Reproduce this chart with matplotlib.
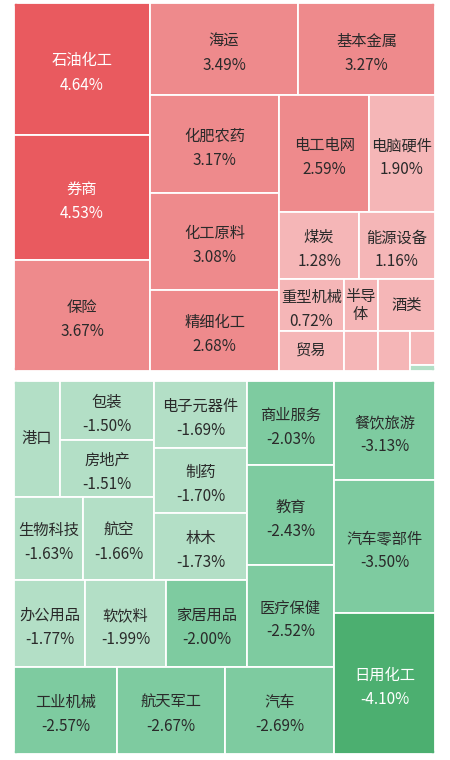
import matplotlib
matplotlib.use("Agg")
import matplotlib.pyplot as plt
from matplotlib.patches import Rectangle, FancyBboxPatch

plt.rcParams['font.family'] = ['Noto Sans CJK SC', 'DejaVu Sans']

# ---- top panel (gainers) ----
up_names = ['石油化工', '券商', '保险', '海运', '基本金属', '化肥农药', '化工原料', '精细化工',
            '电工电网', '电脑硬件', '煤炭', '能源设备', '重型机械', '贸易', '半导\n体', '酒类',
            '', '', '', '']
up_pct = [4.64, 4.53, 3.67, 3.49, 3.27, 3.17, 3.08, 2.68, 2.59, 1.90, 1.28, 1.16, 0.72,
          None, None, None, None, None, None, None]
up_level = [3, 3, 2, 2, 2, 2, 2, 2, 2, 1, 1, 1, 1, 1, 1, 1, 1, 1, 1, 0]
up_weight = [17952, 17000, 15096, 13616, 12604, 12642, 12513, 10449, 10530, 7722, 5360, 5092,
             3328, 2560, 1768, 2964, 1360, 1280, 850, 150]
up_tree = ('h', [('v', [0, 1, 2]),
                 ('v', [('h', [3, 4]),
                        ('h', [('v', [5, 6, 7]),
                               ('v', [('h', [8, 9]), ('h', [10, 11]),
                                      ('h', [('v', [12, 13]),
                                             ('v', [('h', [14, 15]),
                                                    ('h', [16, 17, ('v', [18, 19])])])])])])])])

# ---- bottom panel (losers) ----
dn_names = ['港口', '包装', '房地产', '生物科技', '航空', '电子元器件', '制药', '林木',
            '办公用品', '软饮料', '家居用品', '商业服务', '教育', '医疗保健',
            '工业机械', '航天军工', '汽车', '餐饮旅游', '汽车零部件', '日用化工']
dn_pct = [None, -1.50, -1.51, -1.63, -1.66, -1.69, -1.70, -1.73, -1.77, -1.99, -2.00,
          -2.03, -2.43, -2.52, -2.57, -2.67, -2.69, -3.13, -3.50, -4.10]
dn_level = [0, 0, 0, 0, 0, 0, 0, 0, 0, 0, 1, 1, 1, 1, 1, 1, 1, 1, 1, 2]
dn_weight = [5336, 5546, 5358, 5727, 5893, 6231, 6045, 6231, 6177, 7047, 7047, 7308, 8700,
             8874, 8961, 9396, 9483, 9999, 13433, 14241]
dn_tree = ('h', [('v', [('h', [('v', [('h', [('v', [('h', [0, ('v', [1, 2])]),
                                                        ('h', [3, 4])]),
                                                 ('v', [5, 6, 7])]),
                                          ('h', [8, 9, 10])]),
                                   ('v', [11, 12, 13])]),
                            ('h', [14, 15, 16])]),
                 ('v', [17, 18, 19])])

up_colors = ['#B3DFC6', '#F5B6B7', '#EE8A8C', '#E95A5F']
dn_colors = ['#B3DFC6', '#7ECBA0', '#4CAF70']


def wsum(node, w):
    if isinstance(node, int):
        return w[node]
    return sum(wsum(c, w) for c in node[1])


def layout(node, w, x, y, ww, hh, out):
    if isinstance(node, int):
        out[node] = (x, y, ww, hh)
        return
    d, kids = node
    tot = wsum(node, w)
    pos = 0.0
    for k in kids:
        f = wsum(k, w) / tot
        if d == 'h':
            layout(k, w, x + pos * ww, y, ww * f, hh, out)
        else:
            layout(k, w, x, y + pos * hh, ww, hh * f, out)
        pos += f


W, H = 450, 760
fig = plt.figure(figsize=(4.5, 7.6), dpi=100)
ax = fig.add_axes([0, 0, 1, 1])
ax.set_xlim(0, W)
ax.set_ylim(H, 0)
ax.axis('off')
fig.patch.set_facecolor('white')


def draw(tree, names, pct, level, weight, colors, box, dark_level):
    out = {}
    x0, y0, w0, h0 = box
    layout(tree, weight, x0, y0, w0, h0, out)
    clip = FancyBboxPatch((x0, y0), w0, h0, boxstyle='round,pad=0,rounding_size=4',
                          facecolor='none', edgecolor='none', transform=ax.transData)
    ax.add_patch(clip)
    for i, (x, y, ww, hh) in out.items():
        c = colors[level[i]]
        r = Rectangle((x, y), ww, hh, facecolor=c, edgecolor='white', lw=1.3)
        ax.add_patch(r)
        r.set_clip_path(clip)
        tc = 'white' if level[i] == dark_level else '#2a2a2a'
        cx, cy = x + ww / 2, y + hh / 2
        if names[i] and pct[i] is not None:
            ax.text(cx, cy - 8, names[i], ha='center', va='center', fontsize=11, color=tc)
            ax.text(cx, cy + 16, f'{pct[i]:.2f}%', ha='center', va='center', fontsize=11, color=tc)
        elif names[i]:
            ax.text(cx, cy, names[i], ha='center', va='center', fontsize=11, color=tc,
                    linespacing=1.05)


draw(up_tree, up_names, up_pct, up_level, up_weight, up_colors, (14, 3, 421, 368), 3)
draw(dn_tree, dn_names, dn_pct, dn_level, dn_weight, dn_colors, (14, 381, 421, 373), 2)

fig.savefig('out.png', dpi=100, facecolor='white')
